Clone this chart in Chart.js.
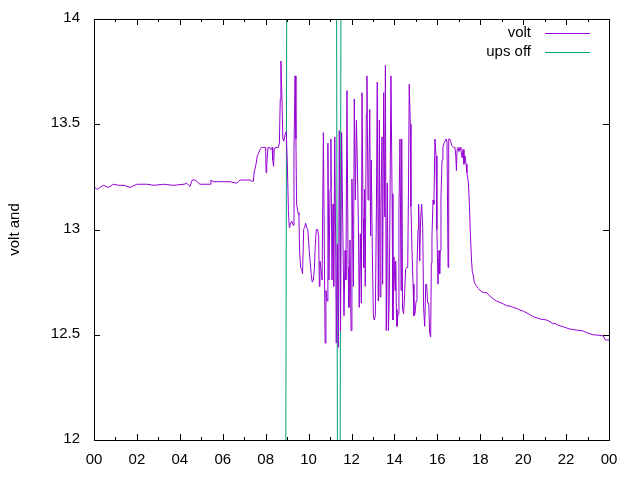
<!DOCTYPE html>
<html>
<head>
<meta charset="utf-8">
<script src="https://cdn.jsdelivr.net/npm/chart.js@4"></script>
<style>
  html, body { margin: 0; padding: 0; background: #fff; }
  #wrap { width: 640px; height: 480px; }
</style>
</head>
<body>
<div id="wrap"><canvas id="voltChart" width="640" height="480"></canvas></div>
<script>
// volt readings, hours since midnight
const voltHours = [
  0.00, 0.05, 0.15, 0.28, 0.43, 0.67, 0.90, 1.13, 1.40, 1.68, 2.00, 2.45, 2.80, 3.23, 3.70, 4.20,
  4.32, 4.47, 4.58, 4.71, 4.94, 5.41, 5.45, 5.56, 6.00, 6.34, 6.65, 6.80, 7.27, 7.32, 7.43, 7.46,
  7.55, 7.61, 7.66, 7.74, 7.81, 7.86, 7.92, 8.00, 8.02, 8.05, 8.11, 8.17, 8.23, 8.30, 8.33, 8.37,
  8.40, 8.45, 8.59, 8.64, 8.68, 8.71, 8.76, 8.80, 8.85, 8.90, 8.96, 9.01, 9.06, 9.10,
  9.13, 9.21, 9.29, 9.32, 9.37, 9.41, 9.44, 9.51, 9.55, 9.58, 9.63, 9.68, 9.72, 9.77, 9.82, 9.86,
  9.91, 9.96, 10.00, 10.03, 10.08, 10.13, 10.17, 10.22, 10.27, 10.31, 10.36, 10.42, 10.47, 10.50,
  10.53, 10.58, 10.63, 10.69, 10.77, 10.81, 10.86, 10.90, 10.95, 11.00, 11.04, 11.09, 11.14, 11.17,
  11.22, 11.26, 11.29, 11.34, 11.39, 11.43,
  11.49, 11.54, 11.60, 11.65, 11.70, 11.74, 11.79, 11.84, 11.88, 11.93, 11.98, 12.02, 12.09, 12.13,
  12.18, 12.23, 12.27, 12.32, 12.36, 12.41, 12.46, 12.49, 12.54, 12.57, 12.61, 12.64, 12.69, 12.72,
  12.77, 12.81, 12.85, 12.89, 12.92, 12.97, 13.02, 13.06, 13.11, 13.16, 13.20, 13.25, 13.30, 13.33,
  13.37, 13.42, 13.45, 13.50, 13.55, 13.58, 13.62, 13.67, 13.72, 13.76,
  13.84, 13.89, 13.93, 13.98, 14.03, 14.06, 14.09, 14.12, 14.17, 14.21, 14.26, 14.31, 14.34, 14.38,
  14.43, 14.48, 14.52, 14.57, 14.62, 14.66, 14.69, 14.74, 14.77, 14.82, 14.87, 14.91, 14.96, 15.01,
  15.05, 15.10, 15.13, 15.18, 15.22, 15.27, 15.32, 15.36, 15.41, 15.46, 15.50, 15.55, 15.60, 15.64,
  15.69, 15.72, 15.75, 15.80, 15.84, 15.89, 15.94, 15.98, 16.03, 16.08, 16.11,
  16.13, 16.17, 16.22, 16.26, 16.31, 16.36, 16.40, 16.45, 16.50, 16.53, 16.58, 16.62, 16.67, 16.76,
  16.82, 16.86, 16.89, 16.92, 16.96, 17.01, 17.06, 17.10, 17.15, 17.20, 17.24, 17.29, 17.34, 17.38,
  17.45, 17.49, 17.54, 17.59, 17.63, 17.68, 17.72, 17.77, 17.83, 17.91, 17.99, 18.14, 18.30, 18.45,
  18.61, 18.76, 18.92, 19.08, 19.23, 19.39, 19.54, 19.70, 19.85, 20.01, 20.24, 20.47, 20.78, 21.09,
  21.25, 21.41, 21.48, 21.64, 21.87, 22.03, 22.18, 22.49, 22.80, 22.96, 23.27, 23.58, 23.74, 23.81,
  23.89, 24.00
];
const voltValues = [
  13.20, 13.20, 13.19, 13.20, 13.21, 13.20, 13.215, 13.21, 13.21, 13.20, 13.215, 13.215, 13.21, 13.215, 13.21, 13.215,
  13.22, 13.205, 13.235, 13.235, 13.215, 13.215, 13.235, 13.227, 13.227, 13.227, 13.22, 13.235, 13.235, 13.23, 13.23, 13.27,
  13.31, 13.35, 13.36, 13.38, 13.39, 13.39, 13.39, 13.39, 13.27, 13.31, 13.39, 13.39, 13.38, 13.39, 13.33, 13.30,
  13.38, 13.39, 13.39, 13.41, 13.62, 13.80, 13.62, 13.43, 13.42, 13.45, 13.465, 13.31, 13.09, 13.01,
  13.02, 13.04, 13.02, 13.38, 13.73, 13.43, 13.12, 13.08, 13.07, 12.90, 12.82, 12.81, 12.79, 13.00, 13.01, 13.03,
  13.01, 13.00, 12.95, 12.90, 12.84, 12.78, 12.75, 12.76, 12.81, 12.92, 13.00, 13.00, 12.97, 12.73,
  12.85, 12.81, 12.76, 13.46, 12.46, 12.71, 12.66, 13.41, 12.76, 13.19, 13.43, 12.76, 13.12, 12.73,
  13.44, 12.97, 12.46, 12.93, 12.44, 13.47,
  12.52, 13.46, 12.97, 12.59, 12.90, 12.76, 13.66, 12.82, 12.63, 12.95, 12.52, 13.24, 12.73, 13.62,
  13.14, 13.52, 13.33, 13.03, 12.63, 12.98, 12.65, 13.65, 13.05, 12.82, 13.19, 12.73, 13.55, 13.73,
  13.14, 13.30, 13.57, 12.97, 13.33, 12.90, 12.59, 12.57, 12.59, 13.09, 13.70, 12.66, 13.52, 12.68,
  13.11, 13.44, 12.74, 13.65, 13.06, 13.78, 12.52, 13.22, 12.52, 12.68,
  13.73, 13.17, 12.57, 12.87, 12.71, 12.85, 12.62, 12.54, 12.60, 13.09, 13.43, 12.71, 13.43, 12.62,
  12.60, 12.70, 12.81, 12.82, 12.82, 13.25, 13.69, 13.50, 13.11, 12.90, 12.74, 12.59, 12.60, 12.66,
  12.82, 13.00, 13.12, 12.85, 13.05, 13.12, 13.01, 12.63, 12.54, 12.74, 12.74, 12.65, 12.65, 12.51,
  12.49, 12.84, 12.97, 13.14, 13.12, 13.43, 13.35, 13.00, 12.74, 12.90, 12.79,
  12.90, 13.16, 13.33, 13.39, 13.41, 13.42, 13.43, 13.42, 12.82, 13.43, 13.43, 13.42, 13.40, 13.39,
  13.39, 13.35, 13.28, 13.38, 13.39, 13.37, 13.39, 13.38, 13.34, 13.38, 13.31, 13.35, 13.31, 13.27,
  13.22, 13.13, 12.98, 12.86, 12.80, 12.78, 12.75, 12.74, 12.73, 12.72, 12.71, 12.70, 12.70, 12.684,
  12.67, 12.66, 12.654, 12.646, 12.638, 12.636, 12.63, 12.625, 12.617, 12.612, 12.60, 12.586, 12.575, 12.57,
  12.562, 12.551, 12.554, 12.545, 12.538, 12.532, 12.527, 12.522, 12.518, 12.51, 12.50, 12.497, 12.494, 12.478,
  12.475, 12.475
];
// ups off flag (lies outside the visible range except at the switch-overs)
const upsHours = [0, 8.90, 9.02, 11.27, 11.38, 11.44, 11.54, 24];
const upsValues = [10, 10, 16, 16, 10, 10, 16, 16];

const yTicks = [12, 12.5, 13, 13.5, 14];
const xTickStep = 2;

const PLOT = { left: 94, top: 19, right: 609, bottom: 440 };

// gnuplot style frame with inward ticks
const framePlugin = {
  id: "frame",
  afterDatasetsDraw(chart) {
    const { ctx, chartArea: a, scales } = chart;
    ctx.save();
    ctx.strokeStyle = "#000";
    ctx.lineWidth = 1;
    ctx.beginPath();
    for (let h = 0; h <= 24; h++) {
      const x = Math.round(scales.x.getPixelForValue(h)) + 0.5;
      const len = h % 2 === 0 ? 6 : 3;
      ctx.moveTo(x, a.bottom); ctx.lineTo(x, a.bottom - len);
      ctx.moveTo(x, a.top); ctx.lineTo(x, a.top + len);
    }
    yTicks.forEach((v) => {
      const y = Math.round(scales.y.getPixelForValue(v)) + 0.5;
      ctx.moveTo(a.left, y); ctx.lineTo(a.left + 6, y);
      ctx.moveTo(a.right, y); ctx.lineTo(a.right - 6, y);
    });
    ctx.stroke();
    ctx.strokeRect(Math.round(a.left) + 0.5, Math.round(a.top) + 0.5,
      Math.round(a.right - a.left), Math.round(a.bottom - a.top));
    ctx.restore();
  },
  afterDraw(chart) {
    // key, text first then line sample
    const { ctx } = chart;
    ctx.save();
    ctx.font = "15px 'Liberation Sans', Arial, sans-serif";
    ctx.textAlign = "right";
    ctx.textBaseline = "middle";
    chart.data.datasets.forEach((ds, i) => {
      const y = 33 + i * 19;
      ctx.fillStyle = "#000";
      ctx.fillText(ds.label, 531, y);
      ctx.strokeStyle = ds.borderColor;
      ctx.lineWidth = 1;
      ctx.beginPath();
      ctx.moveTo(545, y + 0.5);
      ctx.lineTo(590, y + 0.5);
      ctx.stroke();
    });
    ctx.restore();
  },
};

Chart.defaults.font.family = "'Liberation Sans', Arial, sans-serif";
Chart.defaults.font.size = 15;
Chart.defaults.color = "#000";

const ctx = document.getElementById("voltChart").getContext("2d");
const chart = new Chart(ctx, {
  type: "line",
  data: {
    datasets: [
      {
        label: "volt",
        data: voltHours.map((h, i) => ({ x: h, y: voltValues[i] })),
        borderColor: "#9400d3",
        borderWidth: 1,
        pointRadius: 0,
        tension: 0,
      },
      {
        label: "ups off",
        data: upsHours.map((h, i) => ({ x: h, y: upsValues[i] })),
        borderColor: "#009e73",
        borderWidth: 1,
        pointRadius: 0,
        tension: 0,
      },
    ],
  },
  options: {
    responsive: false,
    animation: false,
    events: [],
    layout: { padding: { top: PLOT.top, right: 640 - PLOT.right, left: 0, bottom: 0 } },
    plugins: { legend: { display: false }, tooltip: { enabled: false } },
    scales: {
      x: {
        type: "linear",
        min: 0,
        max: 24,
        grid: { display: false },
        border: { display: false },
        ticks: {
          stepSize: xTickStep,
          autoSkip: false,
          maxRotation: 0,
          padding: 3,
          callback: (v) => String(v % 24).padStart(2, "0"),
        },
        afterFit: (s) => { s.height = 480 - PLOT.bottom; },
      },
      y: {
        min: 12,
        max: 14,
        grid: { display: false },
        border: { display: false },
        afterBuildTicks: (s) => { s.ticks = yTicks.map((v) => ({ value: v })); },
        ticks: {
          padding: 6,
          labelOffset: -1,
          callback: (v) => String(v),
        },
        title: { display: true, text: "volt and", padding: { top: 6, bottom: 0 } },
        afterFit: (s) => { s.width = PLOT.left; },
      },
    },
  },
  plugins: [framePlugin],
});
</script>
</body>
</html>
